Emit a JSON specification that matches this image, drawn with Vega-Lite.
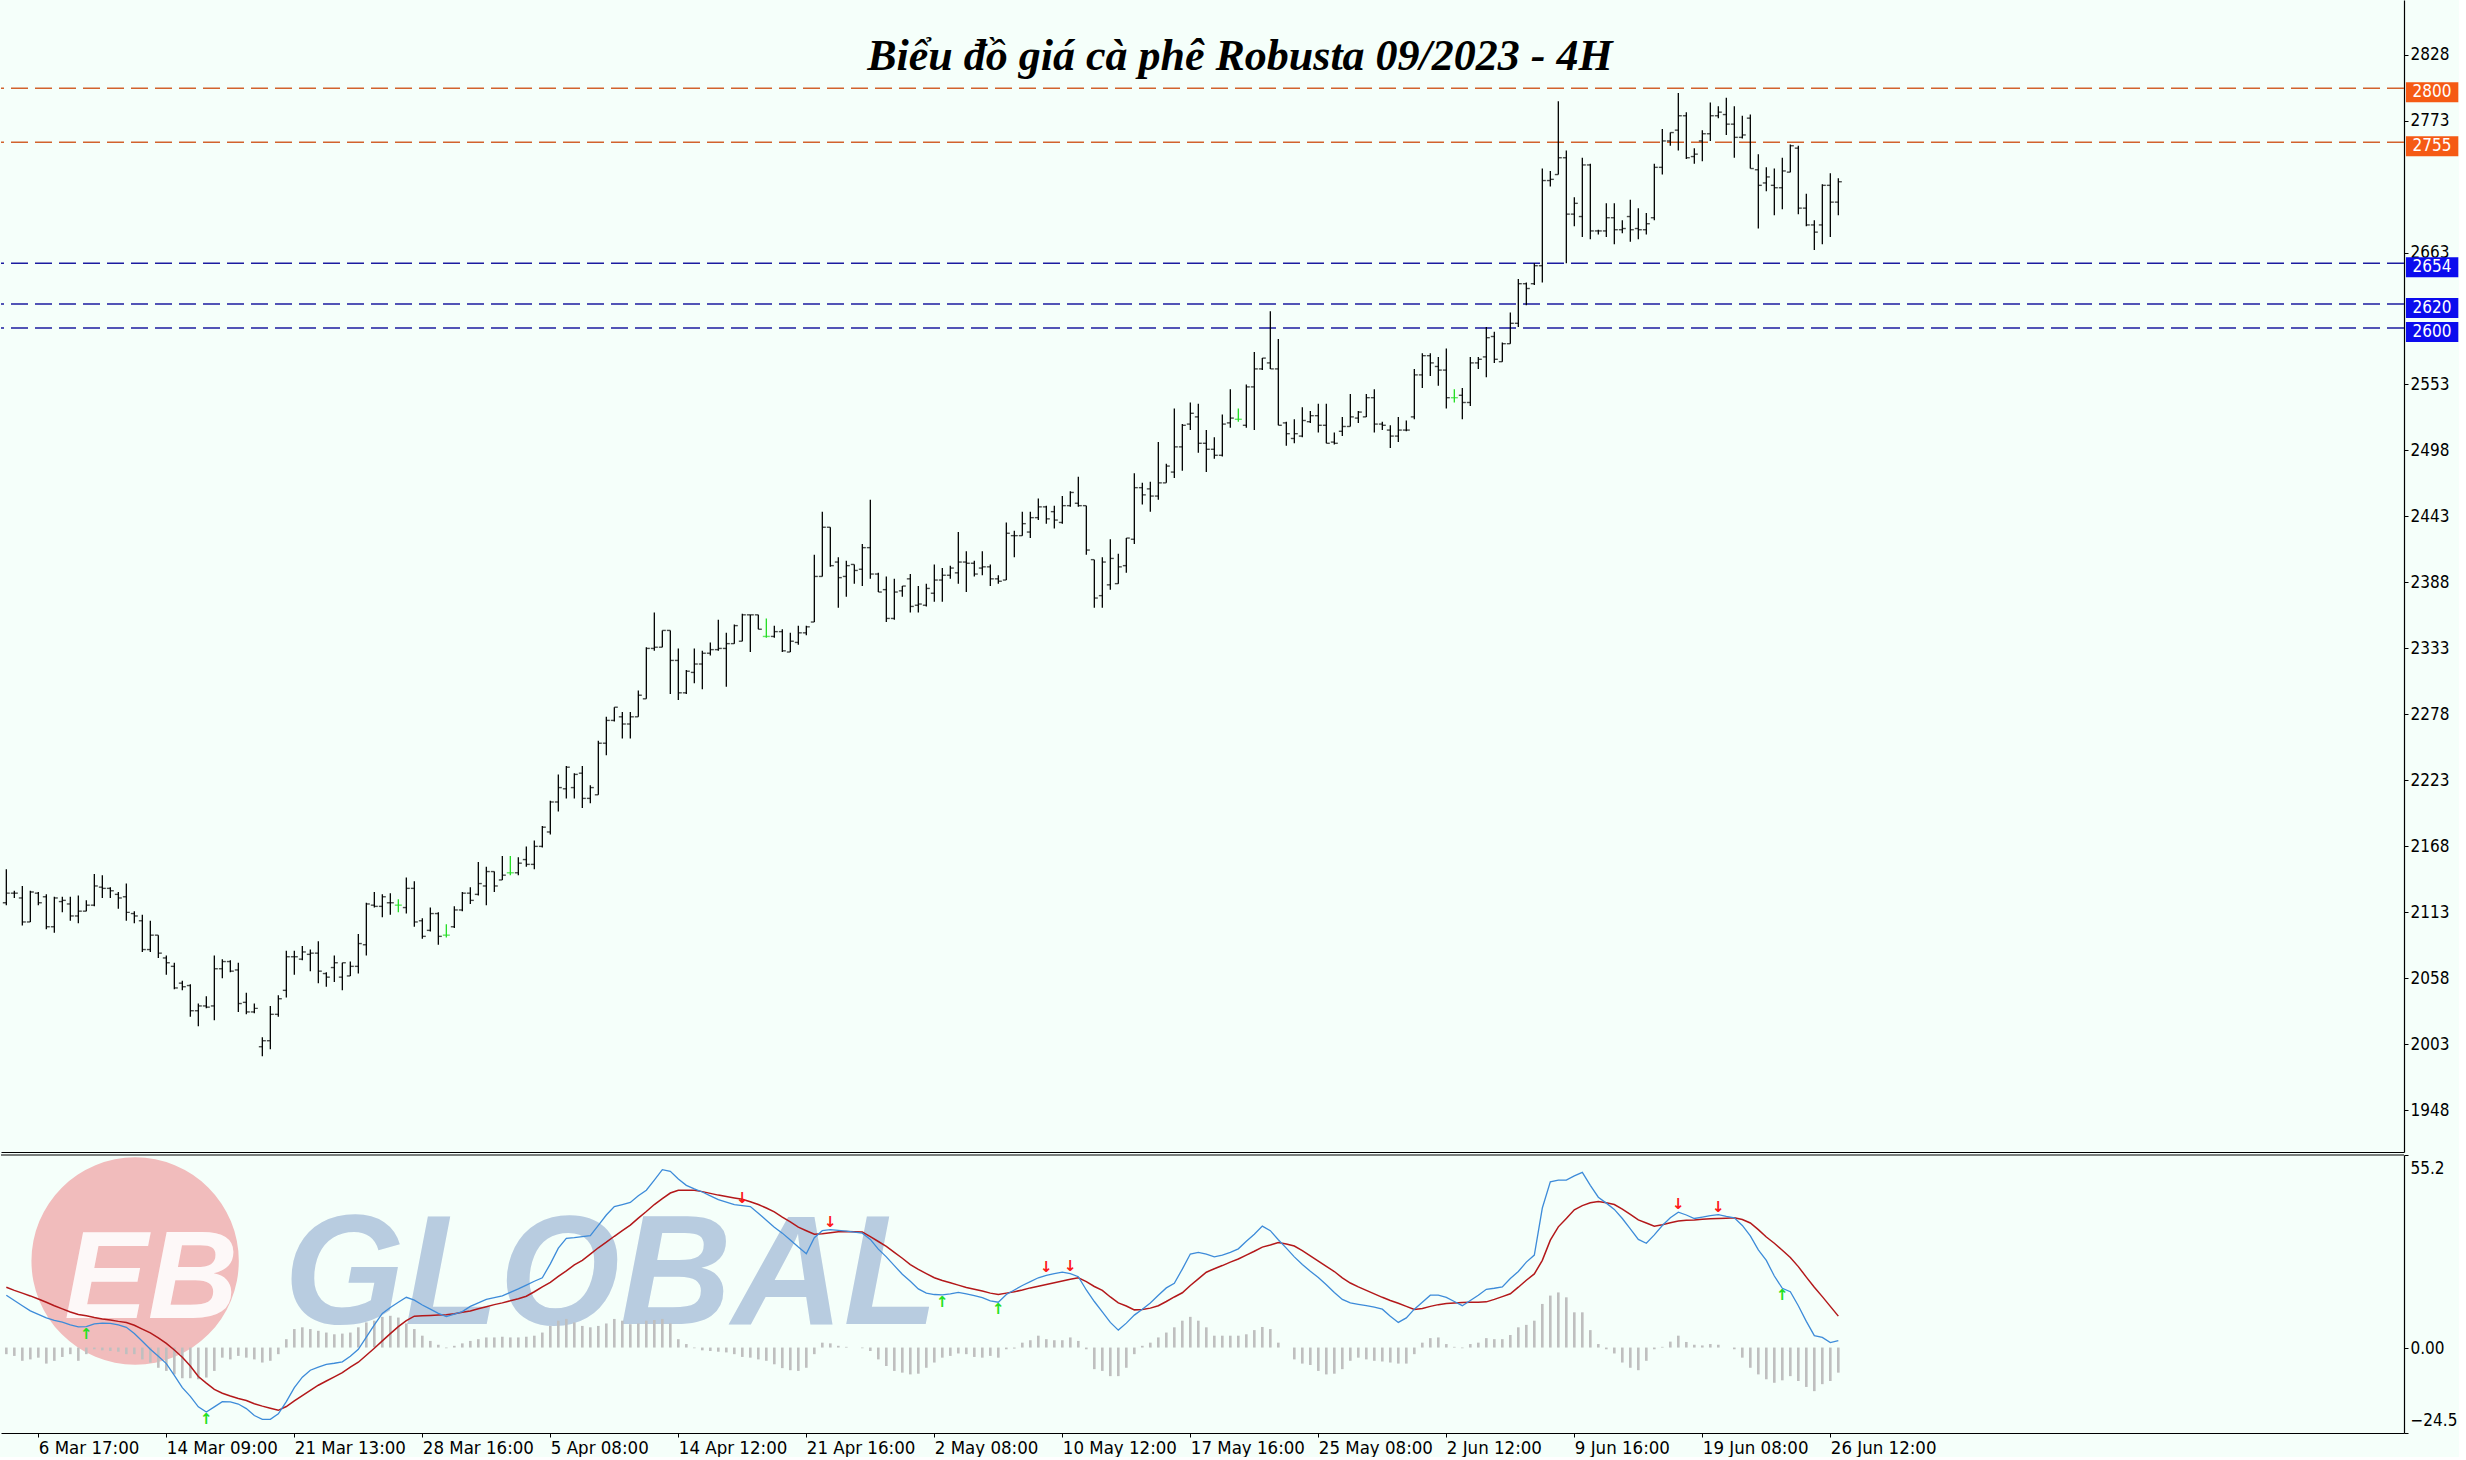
{
"$schema": "https://vega.github.io/schema/vega-lite/v6.json",
"background": "#f5fffa",
"padding": 0,
"spacing": 2,
"config": {"view": {"stroke": null}, "axis": {"labelFont": "DejaVu Sans Condensed, DejaVu Sans", "labelFontSize": 17, "labelColor": "#000000", "domainColor": "#000000", "tickColor": "#000000", "grid": false}},
"datasets": {
"levels": [{"level":2800,"kind":"resistance"},{"level":2755,"kind":"resistance"},{"level":2654,"kind":"support"},{"level":2620,"kind":"support"},{"level":2600,"kind":"support"}],
"arrows": [{"i":10,"v":6.0,"dir":"up"},{"i":25,"v":-18.5,"dir":"up"},{"i":92,"v":40.7,"dir":"down"},{"i":103,"v":33.8,"dir":"down"},{"i":117,"v":15.1,"dir":"up"},{"i":124,"v":13.0,"dir":"up"},{"i":130,"v":20.7,"dir":"down"},{"i":133,"v":21.2,"dir":"down"},{"i":209,"v":38.8,"dir":"down"},{"i":214,"v":38.1,"dir":"down"},{"i":222,"v":17.0,"dir":"up"}],
"bars": [
{"i":0,"o":2121,"h":2149,"l":2119,"c":2129,"macd":15.0,"sig":17.3,"hist":-1.9},
{"i":1,"o":2129,"h":2131,"l":2125,"c":2129,"macd":13.5,"sig":16.4,"hist":-2.4},
{"i":2,"o":2125,"h":2135,"l":2102,"c":2105,"macd":12.0,"sig":15.6,"hist":-3.8},
{"i":3,"o":2105,"h":2131,"l":2105,"c":2130,"macd":10.5,"sig":14.8,"hist":-3.4},
{"i":4,"o":2129,"h":2130,"l":2119,"c":2121,"macd":9.5,"sig":13.9,"hist":-2.9},
{"i":5,"o":2126,"h":2128,"l":2099,"c":2101,"macd":8.5,"sig":13.0,"hist":-4.6},
{"i":6,"o":2101,"h":2126,"l":2096,"c":2125,"macd":7.8,"sig":12.0,"hist":-3.8},
{"i":7,"o":2122,"h":2126,"l":2113,"c":2123,"macd":7.3,"sig":11.1,"hist":-2.7},
{"i":8,"o":2120,"h":2126,"l":2106,"c":2110,"macd":6.5,"sig":10.2,"hist":-1.9},
{"i":9,"o":2110,"h":2127,"l":2104,"c":2114,"macd":5.9,"sig":9.5,"hist":-3.8},
{"i":10,"o":2114,"h":2123,"l":2114,"c":2119,"macd":6.0,"sig":9.1,"hist":-1.9},
{"i":11,"o":2119,"h":2145,"l":2118,"c":2135,"macd":6.8,"sig":8.6,"hist":-0.5},
{"i":12,"o":2134,"h":2144,"l":2125,"c":2133,"macd":7.0,"sig":8.2,"hist":-0.8},
{"i":13,"o":2133,"h":2134,"l":2125,"c":2131,"macd":6.9,"sig":7.9,"hist":-1.0},
{"i":14,"o":2128,"h":2130,"l":2116,"c":2125,"macd":6.5,"sig":7.5,"hist":-1.2},
{"i":15,"o":2126,"h":2137,"l":2106,"c":2113,"macd":5.8,"sig":7.2,"hist":-1.9},
{"i":16,"o":2112,"h":2114,"l":2104,"c":2110,"macd":4.0,"sig":6.4,"hist":-1.9},
{"i":17,"o":2106,"h":2111,"l":2080,"c":2082,"macd":1.8,"sig":5.3,"hist":-3.4},
{"i":18,"o":2082,"h":2106,"l":2080,"c":2094,"macd":-0.5,"sig":4.2,"hist":-4.3},
{"i":19,"o":2094,"h":2094,"l":2075,"c":2079,"macd":-2.5,"sig":2.8,"hist":-5.8},
{"i":20,"o":2075,"h":2077,"l":2061,"c":2071,"macd":-4.6,"sig":1.2,"hist":-6.7},
{"i":21,"o":2068,"h":2071,"l":2049,"c":2050,"macd":-8.0,"sig":-0.7,"hist":-7.7},
{"i":22,"o":2054,"h":2056,"l":2048,"c":2051,"macd":-11.5,"sig":-2.8,"hist":-8.8},
{"i":23,"o":2052,"h":2053,"l":2026,"c":2031,"macd":-14.0,"sig":-5.3,"hist":-8.8},
{"i":24,"o":2031,"h":2037,"l":2018,"c":2035,"macd":-17.0,"sig":-8.3,"hist":-9.1},
{"i":25,"o":2035,"h":2043,"l":2033,"c":2034,"macd":-18.5,"sig":-10.2,"hist":-8.6},
{"i":26,"o":2035,"h":2077,"l":2023,"c":2066,"macd":-17.0,"sig":-12.0,"hist":-6.7},
{"i":27,"o":2066,"h":2074,"l":2058,"c":2072,"macd":-15.5,"sig":-13.1,"hist":-2.9},
{"i":28,"o":2072,"h":2073,"l":2063,"c":2064,"macd":-15.6,"sig":-13.9,"hist":-3.4},
{"i":29,"o":2065,"h":2071,"l":2030,"c":2037,"macd":-16.2,"sig":-14.6,"hist":-2.4},
{"i":30,"o":2038,"h":2046,"l":2028,"c":2030,"macd":-17.5,"sig":-15.2,"hist":-2.9},
{"i":31,"o":2030,"h":2037,"l":2029,"c":2033,"macd":-19.5,"sig":-16.1,"hist":-3.4},
{"i":32,"o":2001,"h":2009,"l":1993,"c":2006,"macd":-20.6,"sig":-16.8,"hist":-4.3},
{"i":33,"o":2006,"h":2035,"l":1999,"c":2028,"macd":-20.6,"sig":-17.4,"hist":-3.8},
{"i":34,"o":2028,"h":2044,"l":2026,"c":2041,"macd":-19.0,"sig":-18.0,"hist":-1.9},
{"i":35,"o":2048,"h":2081,"l":2042,"c":2076,"macd":-15.5,"sig":-16.9,"hist":2.4},
{"i":36,"o":2076,"h":2081,"l":2061,"c":2076,"macd":-11.5,"sig":-15.3,"hist":5.3},
{"i":37,"o":2074,"h":2085,"l":2073,"c":2080,"macd":-8.5,"sig":-13.8,"hist":5.8},
{"i":38,"o":2078,"h":2082,"l":2064,"c":2079,"macd":-6.5,"sig":-12.3,"hist":5.3},
{"i":39,"o":2079,"h":2089,"l":2054,"c":2064,"macd":-5.6,"sig":-10.8,"hist":4.8},
{"i":40,"o":2062,"h":2063,"l":2051,"c":2059,"macd":-4.8,"sig":-9.6,"hist":4.3},
{"i":41,"o":2067,"h":2077,"l":2055,"c":2071,"macd":-4.5,"sig":-8.4,"hist":3.8},
{"i":42,"o":2059,"h":2071,"l":2048,"c":2071,"macd":-4.1,"sig":-7.2,"hist":4.0},
{"i":43,"o":2060,"h":2072,"l":2060,"c":2068,"macd":-2.5,"sig":-5.6,"hist":4.3},
{"i":44,"o":2068,"h":2095,"l":2062,"c":2087,"macd":-0.5,"sig":-4.2,"hist":5.8},
{"i":45,"o":2086,"h":2121,"l":2077,"c":2120,"macd":3.0,"sig":-2.2,"hist":7.2},
{"i":46,"o":2119,"h":2130,"l":2117,"c":2118,"macd":6.5,"sig":-0.2,"hist":7.7},
{"i":47,"o":2118,"h":2128,"l":2109,"c":2126,"macd":9.8,"sig":1.9,"hist":8.8},
{"i":48,"o":2121,"h":2129,"l":2111,"c":2121,"macd":11.5,"sig":4.0,"hist":9.1},
{"i":49,"o":2119,"h":2124,"l":2113,"c":2119,"macd":13.0,"sig":6.0,"hist":8.6},
{"i":50,"o":2117,"h":2142,"l":2112,"c":2133,"macd":14.4,"sig":7.7,"hist":6.9},
{"i":51,"o":2133,"h":2139,"l":2101,"c":2105,"macd":13.6,"sig":9.0,"hist":5.3},
{"i":52,"o":2106,"h":2108,"l":2091,"c":2093,"macd":12.2,"sig":9.1,"hist":3.4},
{"i":53,"o":2098,"h":2117,"l":2097,"c":2112,"macd":11.0,"sig":9.2,"hist":1.9},
{"i":54,"o":2112,"h":2113,"l":2086,"c":2093,"macd":9.8,"sig":9.3,"hist":0.8},
{"i":55,"o":2094,"h":2103,"l":2092,"c":2094,"macd":8.9,"sig":9.4,"hist":-0.2},
{"i":56,"o":2101,"h":2118,"l":2100,"c":2115,"macd":9.6,"sig":9.7,"hist":0.5},
{"i":57,"o":2115,"h":2130,"l":2114,"c":2129,"macd":10.3,"sig":10.1,"hist":1.2},
{"i":58,"o":2129,"h":2134,"l":2120,"c":2123,"macd":11.8,"sig":10.5,"hist":1.9},
{"i":59,"o":2128,"h":2155,"l":2127,"c":2137,"macd":12.8,"sig":11.1,"hist":2.4},
{"i":60,"o":2135,"h":2151,"l":2119,"c":2147,"macd":13.8,"sig":11.7,"hist":2.9},
{"i":61,"o":2147,"h":2147,"l":2130,"c":2135,"macd":14.3,"sig":12.3,"hist":2.9},
{"i":62,"o":2140,"h":2160,"l":2140,"c":2144,"macd":14.8,"sig":12.8,"hist":3.1},
{"i":63,"o":2146,"h":2160,"l":2144,"c":2146,"macd":15.8,"sig":13.4,"hist":2.9},
{"i":64,"o":2146,"h":2159,"l":2144,"c":2154,"macd":16.8,"sig":14.0,"hist":2.9},
{"i":65,"o":2157,"h":2168,"l":2151,"c":2153,"macd":17.9,"sig":14.7,"hist":3.1},
{"i":66,"o":2153,"h":2173,"l":2149,"c":2168,"macd":19.0,"sig":16.0,"hist":3.4},
{"i":67,"o":2168,"h":2185,"l":2167,"c":2184,"macd":20.0,"sig":17.4,"hist":4.3},
{"i":68,"o":2180,"h":2206,"l":2178,"c":2205,"macd":24.0,"sig":18.7,"hist":6.2},
{"i":69,"o":2205,"h":2228,"l":2197,"c":2217,"macd":28.5,"sig":20.4,"hist":7.7},
{"i":70,"o":2216,"h":2235,"l":2208,"c":2234,"macd":31.3,"sig":22.0,"hist":8.2},
{"i":71,"o":2217,"h":2229,"l":2208,"c":2228,"macd":31.5,"sig":23.7,"hist":7.2},
{"i":72,"o":2229,"h":2235,"l":2200,"c":2208,"macd":31.8,"sig":25.0,"hist":6.2},
{"i":73,"o":2208,"h":2219,"l":2204,"c":2217,"macd":32.1,"sig":26.8,"hist":5.8},
{"i":74,"o":2211,"h":2256,"l":2211,"c":2254,"macd":35.0,"sig":28.6,"hist":6.2},
{"i":75,"o":2254,"h":2276,"l":2244,"c":2273,"macd":38.0,"sig":30.2,"hist":6.9},
{"i":76,"o":2273,"h":2284,"l":2272,"c":2284,"macd":40.4,"sig":31.9,"hist":8.2},
{"i":77,"o":2276,"h":2280,"l":2258,"c":2270,"macd":41.0,"sig":33.5,"hist":7.7},
{"i":78,"o":2270,"h":2280,"l":2258,"c":2276,"macd":41.6,"sig":35.1,"hist":6.7},
{"i":79,"o":2276,"h":2298,"l":2276,"c":2294,"macd":43.5,"sig":37.1,"hist":6.9},
{"i":80,"o":2291,"h":2334,"l":2291,"c":2333,"macd":45.1,"sig":39.0,"hist":7.7},
{"i":81,"o":2333,"h":2363,"l":2331,"c":2334,"macd":48.0,"sig":41.0,"hist":7.9},
{"i":82,"o":2334,"h":2348,"l":2334,"c":2348,"macd":51.0,"sig":42.7,"hist":8.2},
{"i":83,"o":2348,"h":2348,"l":2295,"c":2323,"macd":50.5,"sig":44.3,"hist":6.9},
{"i":84,"o":2323,"h":2333,"l":2290,"c":2296,"macd":48.3,"sig":45.1,"hist":2.4},
{"i":85,"o":2296,"h":2315,"l":2295,"c":2314,"macd":46.5,"sig":45.1,"hist":1.0},
{"i":86,"o":2313,"h":2333,"l":2304,"c":2320,"macd":45.5,"sig":45.1,"hist":-0.2},
{"i":87,"o":2320,"h":2331,"l":2299,"c":2329,"macd":44.6,"sig":44.7,"hist":-0.8},
{"i":88,"o":2329,"h":2338,"l":2327,"c":2332,"macd":43.5,"sig":44.2,"hist":-1.0},
{"i":89,"o":2332,"h":2357,"l":2331,"c":2333,"macd":42.4,"sig":43.7,"hist":-1.2},
{"i":90,"o":2333,"h":2346,"l":2301,"c":2337,"macd":41.7,"sig":43.3,"hist":-1.4},
{"i":91,"o":2337,"h":2353,"l":2337,"c":2352,"macd":41.0,"sig":42.9,"hist":-1.9},
{"i":92,"o":2339,"h":2362,"l":2339,"c":2361,"macd":40.7,"sig":42.5,"hist":-2.7},
{"i":93,"o":2361,"h":2361,"l":2330,"c":2361,"macd":40.4,"sig":41.8,"hist":-2.9},
{"i":94,"o":2361,"h":2361,"l":2349,"c":2349,"macd":38.5,"sig":41.0,"hist":-3.4},
{"i":95,"o":2343,"h":2358,"l":2342,"c":2343,"macd":36.5,"sig":40.0,"hist":-3.8},
{"i":96,"o":2343,"h":2352,"l":2342,"c":2347,"macd":34.5,"sig":38.9,"hist":-4.8},
{"i":97,"o":2347,"h":2349,"l":2330,"c":2331,"macd":32.8,"sig":37.4,"hist":-5.9},
{"i":98,"o":2330,"h":2346,"l":2330,"c":2339,"macd":30.8,"sig":36.0,"hist":-6.5},
{"i":99,"o":2338,"h":2352,"l":2336,"c":2346,"macd":28.8,"sig":34.5,"hist":-6.7},
{"i":100,"o":2346,"h":2352,"l":2344,"c":2351,"macd":26.9,"sig":33.5,"hist":-5.8},
{"i":101,"o":2355,"h":2411,"l":2355,"c":2393,"macd":31.5,"sig":32.5,"hist":-1.9},
{"i":102,"o":2393,"h":2447,"l":2393,"c":2434,"macd":33.5,"sig":32.6,"hist":1.4},
{"i":103,"o":2434,"h":2434,"l":2401,"c":2402,"macd":33.8,"sig":32.9,"hist":1.2},
{"i":104,"o":2405,"h":2409,"l":2367,"c":2392,"macd":33.6,"sig":33.2,"hist":0.5},
{"i":105,"o":2393,"h":2406,"l":2376,"c":2402,"macd":33.4,"sig":33.3,"hist":0.2},
{"i":106,"o":2403,"h":2403,"l":2387,"c":2398,"macd":33.1,"sig":33.2,"hist":0.0},
{"i":107,"o":2399,"h":2420,"l":2385,"c":2417,"macd":32.8,"sig":33.1,"hist":-0.2},
{"i":108,"o":2417,"h":2457,"l":2391,"c":2395,"macd":31.0,"sig":31.8,"hist":-1.0},
{"i":109,"o":2395,"h":2396,"l":2380,"c":2380,"macd":28.2,"sig":30.4,"hist":-3.4},
{"i":110,"o":2382,"h":2393,"l":2355,"c":2358,"macd":26.0,"sig":29.0,"hist":-5.3},
{"i":111,"o":2358,"h":2391,"l":2357,"c":2380,"macd":23.5,"sig":27.3,"hist":-6.7},
{"i":112,"o":2381,"h":2385,"l":2376,"c":2385,"macd":21.0,"sig":25.6,"hist":-7.2},
{"i":113,"o":2391,"h":2395,"l":2363,"c":2368,"macd":19.0,"sig":23.8,"hist":-7.7},
{"i":114,"o":2369,"h":2385,"l":2363,"c":2370,"macd":16.8,"sig":22.4,"hist":-7.5},
{"i":115,"o":2369,"h":2387,"l":2368,"c":2383,"macd":15.6,"sig":21.2,"hist":-5.8},
{"i":116,"o":2379,"h":2403,"l":2372,"c":2390,"macd":15.2,"sig":20.0,"hist":-4.3},
{"i":117,"o":2390,"h":2400,"l":2372,"c":2394,"macd":15.1,"sig":19.2,"hist":-2.9},
{"i":118,"o":2394,"h":2402,"l":2391,"c":2400,"macd":15.4,"sig":18.6,"hist":-2.4},
{"i":119,"o":2396,"h":2430,"l":2387,"c":2405,"macd":15.8,"sig":17.9,"hist":-1.7},
{"i":120,"o":2405,"h":2414,"l":2380,"c":2404,"macd":15.4,"sig":17.2,"hist":-1.9},
{"i":121,"o":2404,"h":2406,"l":2393,"c":2395,"macd":14.9,"sig":16.7,"hist":-2.7},
{"i":122,"o":2400,"h":2414,"l":2394,"c":2401,"macd":14.3,"sig":16.2,"hist":-2.9},
{"i":123,"o":2401,"h":2403,"l":2385,"c":2391,"macd":13.4,"sig":15.6,"hist":-2.4},
{"i":124,"o":2391,"h":2394,"l":2387,"c":2389,"macd":13.0,"sig":15.2,"hist":-2.9},
{"i":125,"o":2390,"h":2438,"l":2390,"c":2429,"macd":15.2,"sig":15.6,"hist":-0.5},
{"i":126,"o":2427,"h":2431,"l":2409,"c":2427,"macd":16.5,"sig":16.0,"hist":-0.3},
{"i":127,"o":2427,"h":2447,"l":2427,"c":2437,"macd":17.8,"sig":16.5,"hist":1.4},
{"i":128,"o":2430,"h":2447,"l":2425,"c":2442,"macd":18.9,"sig":17.1,"hist":2.1},
{"i":129,"o":2442,"h":2458,"l":2440,"c":2451,"macd":20.0,"sig":17.6,"hist":3.4},
{"i":130,"o":2451,"h":2452,"l":2437,"c":2441,"macd":20.7,"sig":18.1,"hist":2.4},
{"i":131,"o":2447,"h":2452,"l":2433,"c":2440,"macd":21.2,"sig":18.6,"hist":2.1},
{"i":132,"o":2438,"h":2460,"l":2437,"c":2452,"macd":21.6,"sig":19.1,"hist":2.1},
{"i":133,"o":2452,"h":2464,"l":2451,"c":2463,"macd":21.2,"sig":19.6,"hist":2.9},
{"i":134,"o":2454,"h":2476,"l":2451,"c":2452,"macd":20.3,"sig":20.0,"hist":1.9},
{"i":135,"o":2452,"h":2452,"l":2411,"c":2415,"macd":16.5,"sig":18.9,"hist":-0.5},
{"i":136,"o":2407,"h":2407,"l":2367,"c":2375,"macd":13.2,"sig":17.5,"hist":-6.2},
{"i":137,"o":2377,"h":2409,"l":2367,"c":2405,"macd":10.2,"sig":16.4,"hist":-6.7},
{"i":138,"o":2386,"h":2424,"l":2382,"c":2408,"macd":7.2,"sig":14.5,"hist":-8.2},
{"i":139,"o":2387,"h":2412,"l":2387,"c":2401,"macd":5.0,"sig":12.8,"hist":-8.2},
{"i":140,"o":2402,"h":2425,"l":2396,"c":2425,"macd":7.0,"sig":11.9,"hist":-5.8},
{"i":141,"o":2424,"h":2479,"l":2420,"c":2467,"macd":9.3,"sig":10.8,"hist":-1.9},
{"i":142,"o":2467,"h":2471,"l":2453,"c":2461,"macd":11.0,"sig":10.9,"hist":0.5},
{"i":143,"o":2466,"h":2472,"l":2447,"c":2460,"macd":12.8,"sig":11.3,"hist":1.4},
{"i":144,"o":2460,"h":2505,"l":2457,"c":2471,"macd":15.0,"sig":12.0,"hist":2.9},
{"i":145,"o":2471,"h":2487,"l":2471,"c":2485,"macd":17.1,"sig":13.2,"hist":4.3},
{"i":146,"o":2480,"h":2533,"l":2475,"c":2501,"macd":18.4,"sig":14.5,"hist":5.8},
{"i":147,"o":2501,"h":2520,"l":2481,"c":2519,"macd":22.5,"sig":15.7,"hist":7.7},
{"i":148,"o":2520,"h":2538,"l":2515,"c":2529,"macd":26.8,"sig":17.8,"hist":8.8},
{"i":149,"o":2526,"h":2537,"l":2496,"c":2504,"macd":27.3,"sig":19.7,"hist":7.7},
{"i":150,"o":2504,"h":2515,"l":2480,"c":2499,"macd":26.8,"sig":21.6,"hist":5.8},
{"i":151,"o":2499,"h":2509,"l":2491,"c":2494,"macd":26.0,"sig":22.6,"hist":3.4},
{"i":152,"o":2494,"h":2528,"l":2493,"c":2520,"macd":26.5,"sig":23.5,"hist":3.4},
{"i":153,"o":2521,"h":2549,"l":2517,"c":2525,"macd":27.3,"sig":24.5,"hist":3.4},
{"i":154,"o":2524,"h":2533,"l":2522,"c":2524,"macd":28.3,"sig":25.4,"hist":3.4},
{"i":155,"o":2519,"h":2553,"l":2517,"c":2551,"macd":30.5,"sig":26.5,"hist":3.8},
{"i":156,"o":2551,"h":2580,"l":2515,"c":2566,"macd":32.5,"sig":27.6,"hist":5.0},
{"i":157,"o":2566,"h":2575,"l":2565,"c":2575,"macd":34.8,"sig":28.8,"hist":5.9},
{"i":158,"o":2571,"h":2614,"l":2566,"c":2566,"macd":33.5,"sig":29.4,"hist":5.3},
{"i":159,"o":2566,"h":2591,"l":2519,"c":2519,"macd":30.9,"sig":30.1,"hist":1.4},
{"i":160,"o":2521,"h":2522,"l":2502,"c":2512,"macd":28.5,"sig":29.7,"hist":0.0},
{"i":161,"o":2508,"h":2524,"l":2504,"c":2512,"macd":26.0,"sig":29.1,"hist":-3.4},
{"i":162,"o":2510,"h":2534,"l":2509,"c":2523,"macd":23.8,"sig":27.8,"hist":-4.6},
{"i":163,"o":2522,"h":2531,"l":2521,"c":2527,"macd":21.9,"sig":26.3,"hist":-5.0},
{"i":164,"o":2527,"h":2537,"l":2513,"c":2519,"macd":20.1,"sig":24.8,"hist":-6.7},
{"i":165,"o":2519,"h":2537,"l":2504,"c":2504,"macd":18.0,"sig":23.3,"hist":-7.7},
{"i":166,"o":2505,"h":2513,"l":2503,"c":2504,"macd":15.8,"sig":21.8,"hist":-7.5},
{"i":167,"o":2514,"h":2526,"l":2510,"c":2518,"macd":13.8,"sig":20.0,"hist":-6.2},
{"i":168,"o":2518,"h":2545,"l":2518,"c":2526,"macd":12.8,"sig":18.5,"hist":-3.8},
{"i":169,"o":2525,"h":2531,"l":2521,"c":2530,"macd":12.4,"sig":17.4,"hist":-2.9},
{"i":170,"o":2526,"h":2545,"l":2526,"c":2542,"macd":12.0,"sig":16.4,"hist":-3.4},
{"i":171,"o":2542,"h":2549,"l":2513,"c":2520,"macd":11.6,"sig":15.4,"hist":-3.8},
{"i":172,"o":2520,"h":2522,"l":2515,"c":2519,"macd":11.0,"sig":14.4,"hist":-4.0},
{"i":173,"o":2515,"h":2519,"l":2500,"c":2510,"macd":9.0,"sig":13.5,"hist":-4.3},
{"i":174,"o":2510,"h":2526,"l":2505,"c":2515,"macd":7.2,"sig":12.7,"hist":-4.6},
{"i":175,"o":2515,"h":2523,"l":2514,"c":2515,"macd":8.5,"sig":11.8,"hist":-4.6},
{"i":176,"o":2526,"h":2566,"l":2524,"c":2561,"macd":11.0,"sig":10.9,"hist":-1.9},
{"i":177,"o":2561,"h":2579,"l":2550,"c":2577,"macd":13.0,"sig":11.2,"hist":1.4},
{"i":178,"o":2577,"h":2579,"l":2560,"c":2571,"macd":15.0,"sig":11.8,"hist":2.7},
{"i":179,"o":2568,"h":2576,"l":2552,"c":2565,"macd":15.0,"sig":12.3,"hist":2.9},
{"i":180,"o":2565,"h":2583,"l":2533,"c":2542,"macd":14.4,"sig":12.6,"hist":1.0},
{"i":181,"o":2542,"h":2549,"l":2538,"c":2542,"macd":13.2,"sig":12.8,"hist":0.2},
{"i":182,"o":2544,"h":2550,"l":2524,"c":2538,"macd":12.0,"sig":12.9,"hist":-0.2},
{"i":183,"o":2538,"h":2576,"l":2535,"c":2571,"macd":13.5,"sig":13.0,"hist":1.0},
{"i":184,"o":2571,"h":2576,"l":2566,"c":2574,"macd":15.0,"sig":13.0,"hist":1.4},
{"i":185,"o":2576,"h":2601,"l":2559,"c":2592,"macd":16.7,"sig":13.1,"hist":2.7},
{"i":186,"o":2593,"h":2597,"l":2571,"c":2574,"macd":17.0,"sig":13.8,"hist":2.4},
{"i":187,"o":2572,"h":2588,"l":2572,"c":2587,"macd":17.4,"sig":14.6,"hist":2.4},
{"i":188,"o":2587,"h":2613,"l":2587,"c":2604,"macd":19.8,"sig":15.4,"hist":3.6},
{"i":189,"o":2604,"h":2641,"l":2601,"c":2637,"macd":21.8,"sig":17.3,"hist":5.8},
{"i":190,"o":2637,"h":2638,"l":2619,"c":2633,"macd":24.5,"sig":19.3,"hist":6.5},
{"i":191,"o":2637,"h":2654,"l":2636,"c":2652,"macd":26.5,"sig":21.1,"hist":7.7},
{"i":192,"o":2652,"h":2733,"l":2638,"c":2723,"macd":40.0,"sig":25.0,"hist":12.5},
{"i":193,"o":2723,"h":2731,"l":2718,"c":2724,"macd":47.5,"sig":30.8,"hist":14.9},
{"i":194,"o":2728,"h":2789,"l":2728,"c":2742,"macd":48.0,"sig":34.6,"hist":15.8},
{"i":195,"o":2742,"h":2748,"l":2654,"c":2695,"macd":48.0,"sig":37.0,"hist":14.4},
{"i":196,"o":2695,"h":2709,"l":2685,"c":2704,"macd":49.2,"sig":39.5,"hist":10.1},
{"i":197,"o":2693,"h":2742,"l":2676,"c":2736,"macd":50.2,"sig":40.7,"hist":10.1},
{"i":198,"o":2736,"h":2737,"l":2674,"c":2681,"macd":46.5,"sig":41.5,"hist":5.0},
{"i":199,"o":2681,"h":2682,"l":2678,"c":2681,"macd":43.1,"sig":41.9,"hist":1.0},
{"i":200,"o":2681,"h":2704,"l":2676,"c":2692,"macd":41.4,"sig":41.5,"hist":-0.5},
{"i":201,"o":2692,"h":2704,"l":2670,"c":2682,"macd":39.6,"sig":41.0,"hist":-1.7},
{"i":202,"o":2682,"h":2690,"l":2679,"c":2683,"macd":37.0,"sig":39.7,"hist":-4.3},
{"i":203,"o":2693,"h":2707,"l":2672,"c":2682,"macd":34.0,"sig":38.2,"hist":-5.8},
{"i":204,"o":2683,"h":2700,"l":2674,"c":2682,"macd":31.0,"sig":36.6,"hist":-6.5},
{"i":205,"o":2682,"h":2696,"l":2678,"c":2687,"macd":29.9,"sig":35.7,"hist":-3.8},
{"i":206,"o":2692,"h":2737,"l":2690,"c":2734,"macd":32.3,"sig":34.8,"hist":-0.5},
{"i":207,"o":2734,"h":2766,"l":2728,"c":2756,"macd":35.0,"sig":35.2,"hist":0.2},
{"i":208,"o":2756,"h":2763,"l":2752,"c":2763,"macd":37.2,"sig":35.8,"hist":1.7},
{"i":209,"o":2765,"h":2796,"l":2748,"c":2777,"macd":38.8,"sig":36.3,"hist":3.4},
{"i":210,"o":2777,"h":2780,"l":2741,"c":2742,"macd":38.0,"sig":36.5,"hist":1.6},
{"i":211,"o":2743,"h":2750,"l":2737,"c":2745,"macd":37.0,"sig":36.6,"hist":0.8},
{"i":212,"o":2756,"h":2765,"l":2739,"c":2762,"macd":37.4,"sig":36.8,"hist":0.6},
{"i":213,"o":2762,"h":2788,"l":2756,"c":2777,"macd":37.8,"sig":36.9,"hist":1.0},
{"i":214,"o":2777,"h":2785,"l":2775,"c":2780,"macd":38.1,"sig":37.0,"hist":0.8},
{"i":215,"o":2778,"h":2792,"l":2761,"c":2770,"macd":37.6,"sig":37.1,"hist":0.0},
{"i":216,"o":2770,"h":2785,"l":2742,"c":2759,"macd":37.2,"sig":37.2,"hist":-0.5},
{"i":217,"o":2759,"h":2777,"l":2758,"c":2761,"macd":35.0,"sig":36.7,"hist":-2.9},
{"i":218,"o":2775,"h":2778,"l":2733,"c":2733,"macd":32.0,"sig":35.7,"hist":-5.8},
{"i":219,"o":2732,"h":2745,"l":2683,"c":2719,"macd":28.0,"sig":33.8,"hist":-7.7},
{"i":220,"o":2721,"h":2734,"l":2714,"c":2726,"macd":25.0,"sig":31.7,"hist":-9.1},
{"i":221,"o":2719,"h":2733,"l":2694,"c":2717,"macd":20.5,"sig":29.9,"hist":-10.1},
{"i":222,"o":2717,"h":2742,"l":2699,"c":2731,"macd":17.0,"sig":27.9,"hist":-9.4},
{"i":223,"o":2730,"h":2753,"l":2730,"c":2752,"macd":16.0,"sig":25.8,"hist":-8.2},
{"i":224,"o":2750,"h":2752,"l":2695,"c":2700,"macd":12.0,"sig":23.2,"hist":-9.6},
{"i":225,"o":2700,"h":2712,"l":2685,"c":2686,"macd":7.5,"sig":20.2,"hist":-11.3},
{"i":226,"o":2686,"h":2690,"l":2665,"c":2680,"macd":3.4,"sig":17.3,"hist":-12.5},
{"i":227,"o":2686,"h":2720,"l":2670,"c":2719,"macd":2.9,"sig":14.6,"hist":-10.5},
{"i":228,"o":2719,"h":2729,"l":2676,"c":2705,"macd":1.4,"sig":11.8,"hist":-9.6},
{"i":229,"o":2705,"h":2725,"l":2694,"c":2722,"macd":2.0,"sig":9.0,"hist":-7.2}
]
},
"vconcat": [
{
"width": 2403,
"height": 1152,
"layer": [
{"data": {"name": "levels"}, "mark": {"type": "rule", "strokeDash": [17, 7], "strokeWidth": 1.5},
 "encoding": {"y": {"field": "level", "type": "quantitative"},
  "stroke": {"field": "kind", "type": "nominal", "scale": {"domain": ["resistance", "support"], "range": ["#d2622d", "#1c1ca0"]}, "legend": null}}},
{"data": {"values": [{"title": "Biểu đồ giá cà phê Robusta 09/2023 - 4H"}]},
 "mark": {"type": "text", "font": "Liberation Serif", "fontSize": 44, "fontStyle": "italic", "fontWeight": "bold", "color": "#000000", "align": "center", "baseline": "middle"},
 "encoding": {"x": {"datum": 154.2}, "y": {"datum": 2826.3}, "text": {"field": "title"}}},
{"data": {"name": "bars"}, "mark": {"type": "rule", "strokeWidth": 1.3},
 "encoding": {
  "x": {"field": "i", "type": "quantitative", "scale": {"domain": [-0.666, 299.71], "nice": false, "zero": false},
        "axis": {"orient": "bottom", "labels": false, "ticks": false, "domain": true, "domainWidth": 1.2, "title": null}},
  "y": {"field": "l", "type": "quantitative", "scale": {"domain": [1917.42, 2869.32], "nice": false, "zero": false},
        "axis": {"orient": "right", "values": [2828, 2773, 2663, 2553, 2498, 2443, 2388, 2333, 2278, 2223, 2168, 2113, 2058, 2003, 1948], "format": "d", "tickSize": 4, "labelPadding": 2, "labelOverlap": false, "domainWidth": 1.2, "title": null}},
  "y2": {"field": "h"},
  "color": {"condition": {"test": "indexof([49,55,63,95,154,181], datum.i) >= 0", "value": "#22dd22"}, "value": "#000000"}}},
{"data": {"name": "bars"}, "mark": {"type": "tick", "orient": "horizontal", "size": 3.5, "thickness": 1.4, "xOffset": -1.75},
 "encoding": {"x": {"field": "i", "type": "quantitative"}, "y": {"field": "o", "type": "quantitative"},
  "color": {"condition": {"test": "indexof([49,55,63,95,154,181], datum.i) >= 0", "value": "#22dd22"}, "value": "#000000"}}},
{"data": {"name": "bars"}, "mark": {"type": "tick", "orient": "horizontal", "size": 3.5, "thickness": 1.4, "xOffset": 1.75},
 "encoding": {"x": {"field": "i", "type": "quantitative"}, "y": {"field": "c", "type": "quantitative"},
  "color": {"condition": {"test": "indexof([49,55,63,95,154,181], datum.i) >= 0", "value": "#22dd22"}, "value": "#000000"}}},
{"data": {"name": "levels"}, "mark": {"type": "bar", "orient": "horizontal", "size": 20, "yOffset": 4},
 "encoding": {"x": {"datum": 299.95}, "x2": {"datum": 306.5}, "y": {"field": "level", "type": "quantitative"},
  "fill": {"field": "kind", "type": "nominal", "scale": {"domain": ["resistance", "support"], "range": ["#f55a14", "#0c0cee"]}, "legend": null}}},
{"data": {"name": "levels"}, "mark": {"type": "text", "font": "DejaVu Sans Condensed, DejaVu Sans", "fontSize": 17, "color": "#ffffff", "align": "center", "baseline": "middle", "yOffset": 4},
 "encoding": {"x": {"datum": 303.2}, "y": {"field": "level", "type": "quantitative"}, "text": {"field": "level", "type": "quantitative", "format": "d"}}}
]
},
{
"width": 2403,
"height": 278,
"layer": [
{"data": {"values": [{"logo": "EB GLOBAL"}]}, "mark": {"type": "point", "shape": "circle", "filled": true, "size": 43000, "color": "#f1bcbc", "opacity": 1},
 "encoding": {"x": {"datum": 16.1}, "y": {"datum": 24.8}}},
{"data": {"values": [{"logo": "EB"}]}, "mark": {"type": "text", "font": "Liberation Sans", "fontSize": 125, "fontStyle": "italic", "fontWeight": "bold", "color": "#ffffff", "opacity": 0.9, "align": "center", "baseline": "alphabetic"},
 "encoding": {"x": {"datum": 18.1}, "y": {"datum": 8.6}, "text": {"field": "logo"}}},
{"data": {"values": [{"logo": "GLOBAL"}]}, "mark": {"type": "text", "font": "Liberation Sans", "fontSize": 155, "fontStyle": "italic", "fontWeight": "bold", "color": "#b8cce0", "align": "center", "baseline": "alphabetic"},
 "encoding": {"x": {"datum": 75.6}, "y": {"datum": 6.8}, "text": {"field": "logo"}}},
{"data": {"name": "bars"}, "mark": {"type": "rule", "strokeWidth": 2.6, "color": "#bfbfbf"},
 "encoding": {
  "x": {"field": "i", "type": "quantitative", "scale": {"domain": [-0.666, 299.71], "nice": false, "zero": false},
        "axis": {"orient": "bottom", "values": [4, 20, 36, 52, 68, 84, 100, 116, 132, 148, 164, 180, 196, 212, 228],
                 "labelExpr": "['6 Mar 17:00','14 Mar 09:00','21 Mar 13:00','28 Mar 16:00','5 Apr 08:00','14 Apr 12:00','21 Apr 16:00','2 May 08:00','10 May 12:00','17 May 16:00','25 May 08:00','2 Jun 12:00','9 Jun 16:00','19 Jun 08:00','26 Jun 12:00'][(datum.value - 4) / 16]",
                 "labelAlign": "left", "labelBaseline": "top", "labelFontSize": 18.5, "tickSize": 4, "labelPadding": 1, "labelFlush": false, "labelOverlap": false, "domainWidth": 1.2, "title": null}},
  "y": {"field": "hist", "type": "quantitative", "scale": {"domain": [-24.5, 55.2], "nice": false, "zero": false},
        "axis": {"orient": "right", "values": [55.2, 0, -24.5], "labelExpr": "datum.value == 0 ? '0.00' : format(datum.value, '.1f')", "tickSize": 4, "labelPadding": 2, "labelOverlap": false, "domainWidth": 1.2, "title": null,
                 "labelBaseline": {"condition": {"test": "datum.value > 50", "value": "top"}, "value": "bottom"},
                 "labelOffset": {"condition": [{"test": "datum.value == 0", "value": 10}, {"test": "datum.value < -20", "value": -4}], "value": 5}}},
  "y2": {"datum": 0}}},
{"data": {"name": "bars"}, "mark": {"type": "line", "color": "#b3181a", "strokeWidth": 1.5},
 "encoding": {"x": {"field": "i", "type": "quantitative"}, "y": {"field": "sig", "type": "quantitative"}}},
{"data": {"name": "bars"}, "mark": {"type": "line", "color": "#3d8bd9", "strokeWidth": 1.3},
 "encoding": {"x": {"field": "i", "type": "quantitative"}, "y": {"field": "macd", "type": "quantitative"}}},
{"data": {"name": "arrows"}, "transform": [{"filter": "datum.dir == 'up'"}],
 "mark": {"type": "text", "text": "↑", "font": "DejaVu Sans", "fontSize": 15, "fontWeight": "bold", "color": "#22e022", "align": "center", "baseline": "top"},
 "encoding": {"x": {"field": "i", "type": "quantitative"}, "y": {"field": "v", "type": "quantitative"}}},
{"data": {"name": "arrows"}, "transform": [{"filter": "datum.dir == 'down'"}],
 "mark": {"type": "text", "text": "↓", "font": "DejaVu Sans", "fontSize": 15, "fontWeight": "bold", "color": "#ff1a1a", "align": "center", "baseline": "bottom"},
 "encoding": {"x": {"field": "i", "type": "quantitative"}, "y": {"field": "v", "type": "quantitative"}}},
{"data": {"values": [{"edge": "top"}]}, "mark": {"type": "rule", "color": "#000000", "strokeWidth": 1.2},
 "encoding": {"y": {"datum": 55.2}}}
]
}
]
}
